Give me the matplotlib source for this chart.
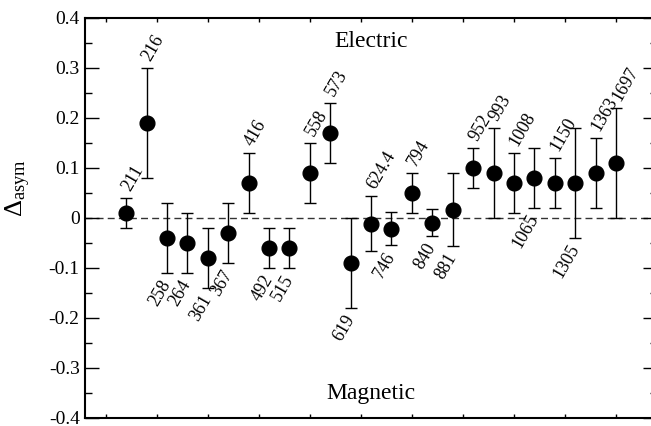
# asymmetry plot, electric vs magnetic
import numpy as np
import matplotlib
matplotlib.use("Agg")
import matplotlib.pyplot as plt

plt.rcParams['font.family'] = ['Liberation Serif', 'DejaVu Serif']
plt.rcParams['mathtext.fontset'] = 'custom'
plt.rcParams['mathtext.rm'] = 'Liberation Serif'
plt.rcParams['mathtext.it'] = 'Liberation Serif:italic'
plt.rcParams['axes.unicode_minus'] = False

# data
labels = ['211', '216', '258', '264', '361', '367', '416', '492', '515', '558',
          '573', '619', '624.4', '746', '794', '840', '881', '952', '993',
          '1008', '1065', '1150', '1305', '1363', '1697']
values = [0.01, 0.19, -0.04, -0.05, -0.08, -0.03, 0.07, -0.06, -0.06, 0.09,
          0.17, -0.09, -0.012, -0.022, 0.05, -0.01, 0.016, 0.10, 0.09,
          0.07, 0.08, 0.07, 0.07, 0.09, 0.11]
errors = [0.03, 0.11, 0.07, 0.06, 0.06, 0.06, 0.06, 0.04, 0.04, 0.06,
          0.06, 0.09, 0.055, 0.033, 0.04, 0.027, 0.073, 0.04, 0.09,
          0.06, 0.06, 0.05, 0.11, 0.07, 0.11]
# which side of the error bar the label sits on
sides = ['up', 'up', 'down', 'down', 'down', 'down', 'up', 'down', 'down', 'up',
         'up', 'down', 'up', 'down', 'up', 'down', 'down', 'up', 'up',
         'up', 'down', 'up', 'down', 'up', 'up']
ytick_vals = [0.4, 0.3, 0.2, 0.1, 0.0, -0.1, -0.2, -0.3, -0.4]
ytick_labels = ['0.4', '0.3', '0.2', '0.1', '0', '-0.1', '-0.2', '-0.3', '-0.4']

xpos = np.arange(2, 2 + len(values))

fig = plt.figure(figsize=(6.51, 4.26), dpi=100)
ax = fig.add_axes([0.131, 0.0195, 0.878, 0.939])

ax.axhline(0, color='#333333', lw=1.0, dashes=(5, 3), zorder=1)
ax.errorbar(xpos, values, yerr=errors, fmt='o', color='black', ms=10.6,
            ecolor='black', elinewidth=1.0, capsize=4.3, capthick=1.0, zorder=3)

for x, v, e, lab, s in zip(xpos, values, errors, labels, sides):
    if s == 'up':
        ax.annotate(lab, (x, v + e), xytext=(0, 6), textcoords='offset points',
                    rotation=60, rotation_mode='anchor', ha='left', va='center',
                    fontsize=13)
    else:
        ax.annotate(lab, (x, v - e), xytext=(0, -6), textcoords='offset points',
                    rotation=60, rotation_mode='anchor', ha='right', va='center',
                    fontsize=13)

ax.text(0.5, 0.94, 'Electric', transform=ax.transAxes, ha='center', va='center',
        fontsize=17)
ax.text(0.5, 0.06, 'Magnetic', transform=ax.transAxes, ha='center', va='center',
        fontsize=17)

ax.set_xlim(0, 28)
ax.set_ylim(-0.4, 0.4)
ax.set_yticks(ytick_vals)
ax.set_yticklabels(ytick_labels, fontsize=14)
ax.set_yticks(np.arange(-0.35, 0.4, 0.1), minor=True)
ax.set_xticks(np.arange(1, 28, 2.5))
ax.set_xticklabels([])
ax.tick_params(axis='y', which='major', direction='in', length=10, width=1,
               left=True, right=True, pad=4)
ax.tick_params(axis='y', which='minor', direction='in', length=5, width=1,
               left=True, right=True)
ax.tick_params(axis='x', which='major', direction='in', length=3, width=1,
               top=True, bottom=True)
for sp in ax.spines.values():
    sp.set_linewidth(1.5)

ax.set_ylabel(r'Δ$_{\mathrm{asym}}$', fontsize=19)
ax.yaxis.set_label_coords(-0.092, 0.574)

plt.savefig('out.png', dpi=100)
